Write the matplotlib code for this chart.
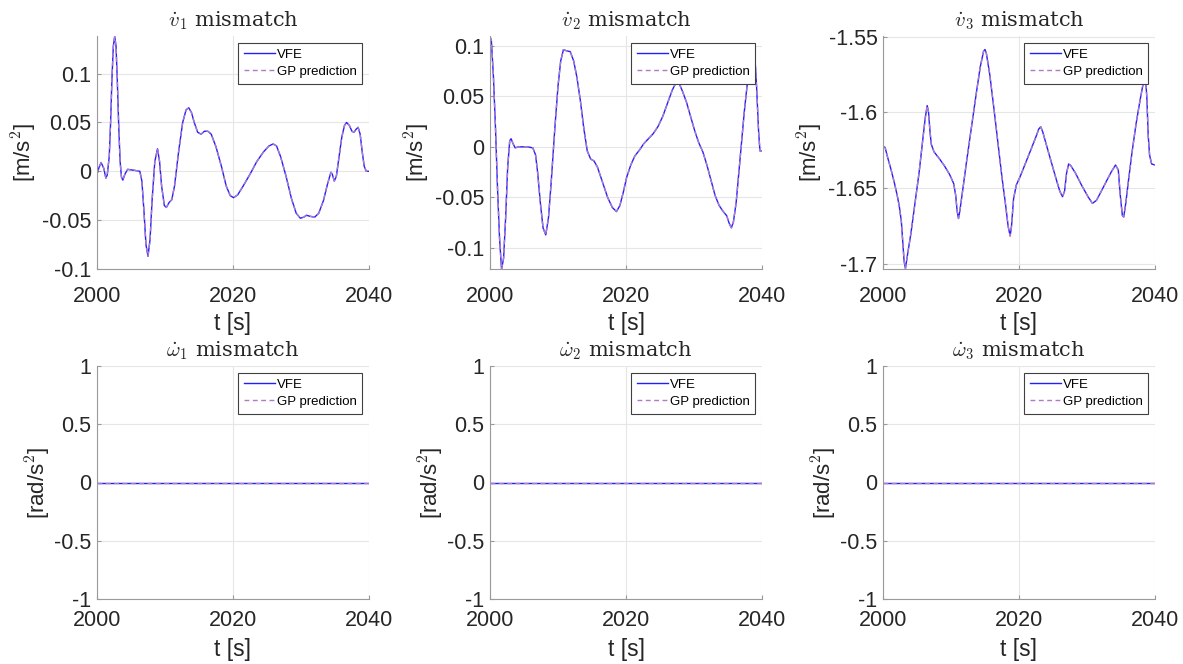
import matplotlib.pyplot as plt

# values
t_v1 = [2000, 2000.3, 2000.6, 2001.0, 2001.3, 2001.5, 2001.8, 2002.0, 2002.2, 2002.4, 2002.6, 2002.8,
        2003.0, 2003.2, 2003.4, 2003.6, 2003.8, 2004.1, 2004.5, 2005.5, 2006.3, 2006.6, 2006.9, 2007.2,
        2007.5, 2007.8, 2008.1, 2008.5, 2008.9, 2009.2, 2009.5, 2009.9, 2010.2, 2010.6, 2011.0, 2011.4,
        2012.0, 2012.6, 2013.1, 2013.5, 2013.9, 2014.3, 2014.8, 2015.3, 2015.8, 2016.3, 2016.8, 2017.5,
        2018.3, 2019.0, 2019.6, 2020.1, 2020.7, 2021.5, 2022.5, 2023.5, 2024.5, 2025.3, 2025.9, 2026.4,
        2027.0, 2027.8, 2028.6, 2029.3, 2029.9, 2030.4, 2030.8, 2031.3, 2032.0, 2032.6, 2033.3, 2033.9,
        2034.4, 2034.6, 2034.9, 2035.2, 2035.6, 2036.0, 2036.4, 2036.7, 2037.1, 2037.5, 2037.8, 2038.1,
        2038.4, 2038.7, 2039.0, 2039.3, 2039.6, 2040]
v1 = [-0.003, 0.004, 0.009, 0.003, -0.007, -0.004, 0.015, 0.050, 0.095, 0.128, 0.138, 0.128,
      0.090, 0.045, 0.010, -0.006, -0.009, -0.003, 0.002, 0.001, 0.000, -0.010, -0.040, -0.075,
      -0.087, -0.070, -0.030, 0.010, 0.023, 0.010, -0.015, -0.035, -0.037, -0.032, -0.029, -0.015,
      0.020, 0.050, 0.063, 0.065, 0.060, 0.050, 0.040, 0.038, 0.041, 0.041, 0.038, 0.025,
      0.005, -0.015, -0.025, -0.027, -0.024, -0.015, -0.003, 0.010, 0.020, 0.026, 0.028, 0.026,
      0.015, -0.005, -0.028, -0.043, -0.048, -0.047, -0.045, -0.046, -0.047, -0.043, -0.030, -0.013,
      -0.001, -0.003, -0.010, -0.005, 0.015, 0.035, 0.047, 0.050, 0.047, 0.041, 0.040, 0.043,
      0.045, 0.038, 0.020, 0.005, 0.000, 0.000]

t_v2 = [2000, 2000.2, 2000.5, 2000.8, 2001.1, 2001.4, 2001.7, 2002.0, 2002.3, 2002.6, 2002.9, 2003.1,
        2003.4, 2003.7, 2004.2, 2005.5, 2006.3, 2006.7, 2007.0, 2007.4, 2007.8, 2008.2, 2008.6, 2009.0,
        2009.5, 2010.0, 2010.4, 2010.8, 2011.2, 2011.8, 2012.3, 2012.8, 2013.3, 2013.8, 2014.3, 2014.8,
        2015.3, 2015.8, 2016.5, 2017.3, 2018.0, 2018.6, 2019.1, 2019.6, 2020.1, 2020.7, 2021.3, 2022.0,
        2022.6, 2023.3, 2024.0, 2024.7, 2025.4, 2026.1, 2026.8, 2027.4, 2027.8, 2028.3, 2028.9, 2029.5,
        2030.1, 2030.7, 2031.3, 2031.9, 2032.5, 2033.1, 2033.7, 2034.3, 2034.8, 2035.2, 2035.5, 2035.8,
        2036.2, 2036.6, 2037.0, 2037.4, 2037.8, 2038.2, 2038.6, 2038.9, 2039.2, 2039.5, 2039.7, 2040]
v2 = [0.109, 0.105, 0.070, 0.020, -0.040, -0.090, -0.121, -0.110, -0.070, -0.020, 0.006, 0.008,
      0.003, -0.001, 0.000, 0.000, -0.001, -0.008, -0.025, -0.055, -0.080, -0.087, -0.070, -0.035,
      0.015, 0.060, 0.085, 0.096, 0.095, 0.094, 0.085, 0.068, 0.045, 0.018, -0.004, -0.012,
      -0.014, -0.020, -0.034, -0.050, -0.060, -0.064, -0.058, -0.045, -0.030, -0.018, -0.009, -0.003,
      0.003, 0.008, 0.013, 0.020, 0.030, 0.043, 0.056, 0.064, 0.063, 0.055, 0.044, 0.030,
      0.016, 0.004, -0.005, -0.018, -0.033, -0.048, -0.058, -0.064, -0.068, -0.076, -0.080, -0.074,
      -0.055, -0.025, 0.005, 0.035, 0.060, 0.085, 0.100, 0.095, 0.060, 0.015, -0.004, -0.004]

t_v3 = [2000, 2000.3, 2000.7, 2001.2, 2001.7, 2002.1, 2002.4, 2002.7, 2002.9, 2003.1, 2003.3, 2003.6,
        2004.1, 2004.7, 2005.3, 2005.8, 2006.2, 2006.5, 2006.7, 2006.9, 2007.1, 2007.5, 2008.2, 2009.0,
        2009.8, 2010.4, 2010.7, 2010.9, 2011.1, 2011.3, 2011.7, 2012.3, 2013.0, 2013.7, 2014.3, 2014.8,
        2015.0, 2015.2, 2015.7, 2016.3, 2016.9, 2017.5, 2018.0, 2018.4, 2018.7, 2018.9, 2019.2, 2019.6,
        2020.2, 2021.0, 2021.8, 2022.5, 2022.9, 2023.2, 2023.5, 2024.0, 2024.7, 2025.4, 2026.0, 2026.4,
        2026.7, 2027.0, 2027.3, 2027.6, 2028.3, 2029.2, 2030.2, 2030.8, 2031.4, 2032.1, 2032.9, 2033.6,
        2034.2, 2034.6, 2034.9, 2035.2, 2035.4, 2035.7, 2036.1, 2036.6, 2037.2, 2037.8, 2038.3, 2038.6,
        2038.8, 2039.0, 2039.2, 2039.5, 2040]
v3 = [-1.6226, -1.623, -1.630, -1.638, -1.647, -1.655, -1.662, -1.672, -1.685, -1.698, -1.703, -1.694,
      -1.680, -1.660, -1.640, -1.620, -1.604, -1.5955, -1.600, -1.612, -1.621, -1.626, -1.630, -1.635,
      -1.641, -1.647, -1.655, -1.665, -1.670, -1.665, -1.652, -1.632, -1.610, -1.588, -1.570, -1.5595,
      -1.5585, -1.561, -1.575, -1.597, -1.620, -1.643, -1.660, -1.675, -1.6815, -1.675, -1.657, -1.648,
      -1.642, -1.633, -1.624, -1.616, -1.611, -1.6095, -1.613, -1.621, -1.632, -1.643, -1.652, -1.6556,
      -1.652, -1.640, -1.634, -1.635, -1.640, -1.648, -1.656, -1.660, -1.658, -1.652, -1.645, -1.639,
      -1.6347, -1.638, -1.655, -1.668, -1.669, -1.660, -1.645, -1.627, -1.608, -1.592, -1.580, -1.577,
      -1.590, -1.615, -1.628, -1.634, -1.6347]

t_w = [2000, 2040]
w1 = [0, 0]
w2 = [0, 0]
w3 = [0, 0]

top_series = [(t_v1, v1), (t_v2, v2), (t_v3, v3)]
bot_series = [(t_w, w1), (t_w, w2), (t_w, w3)]
top_titles = [r'$\dot{v}_1$ mismatch', r'$\dot{v}_2$ mismatch', r'$\dot{v}_3$ mismatch']
bot_titles = [r'$\dot{\omega}_1$ mismatch', r'$\dot{\omega}_2$ mismatch', r'$\dot{\omega}_3$ mismatch']
top_ylims = [(-0.1, 0.1385), (-0.1207, 0.1095), (-1.7033, -1.5496)]
top_yticks = [[-0.1, -0.05, 0, 0.05, 0.1], [-0.1, -0.05, 0, 0.05, 0.1], [-1.7, -1.65, -1.6, -1.55]]
bot_yticks = [-1, -0.5, 0, 0.5, 1]

plt.rcParams['font.family'] = ['Liberation Sans', 'DejaVu Sans']
plt.rcParams['mathtext.fontset'] = 'cm'

W, H = 1183, 664
fig = plt.figure(figsize=(W / 100, H / 100), dpi=100)

lefts = [97, 490, 883]
aw = 272
rows = [(36, 269), (366, 599)]

TXT = '#262626'


def style_axes(ax, title, ylabel, xpad, xlabpad, ylab_x):
    ax.set_xlim(2000, 2040)
    ax.set_xticks([2000, 2020, 2040])
    ax.grid(True, color='#e6e6e6', linewidth=0.8)
    ax.set_axisbelow(True)
    for s in ['top', 'right']:
        ax.spines[s].set_visible(False)
    for s in ['left', 'bottom']:
        ax.spines[s].set_color('#9a9a9a')
        ax.spines[s].set_linewidth(0.8)
    ax.tick_params(direction='in', length=3, color='#9a9a9a', labelcolor=TXT, labelsize=15.5)
    ax.tick_params(axis='y', pad=4)
    ax.tick_params(axis='x', pad=xpad)
    ax.set_title(title, fontsize=15, color=TXT, family='serif', pad=7)
    ax.set_ylabel(ylabel, fontsize=16, color=TXT)
    ax.yaxis.set_label_coords(ylab_x, 0.5)
    ax.set_xlabel('t [s]', fontsize=16.5, color=TXT, labelpad=xlabpad)
    ax.legend(loc='upper right', fontsize=9.5, frameon=True, fancybox=False, edgecolor='#404040',
              framealpha=1, handlelength=2.4, handletextpad=0.1, borderpad=0.45, labelspacing=0.35,
              borderaxespad=0.5)
    ax.get_legend().get_frame().set_linewidth(0.8)


for r, (top, bot) in enumerate(rows):
    for c in range(3):
        ax = fig.add_axes([lefts[c] / W, 1 - bot / H, aw / W, (bot - top) / H])
        if r == 0:
            t, v = top_series[c]
        else:
            t, v = bot_series[c]
        ax.plot(t, v, color='#2020ff', linewidth=1.0, label='VFE')
        ax.plot(t, v, color='#b07ac8', linewidth=1.0, linestyle=(0, (3.5, 2.5)), label='GP prediction')
        if r == 0:
            ax.set_ylim(*top_ylims[c])
            ax.set_yticks(top_yticks[c])
            ax.set_yticklabels([f'{y:g}' for y in top_yticks[c]])
            style_axes(ax, top_titles[c], '[m/s$^2$]', 12, 4, -0.215)
        else:
            ax.set_ylim(-1, 1)
            ax.set_yticks(bot_yticks)
            ax.set_yticklabels([f'{y:g}' for y in bot_yticks])
            style_axes(ax, bot_titles[c], '[rad/s$^2$]', 8, 5, -0.163)

fig.savefig('out.png', dpi=100)
